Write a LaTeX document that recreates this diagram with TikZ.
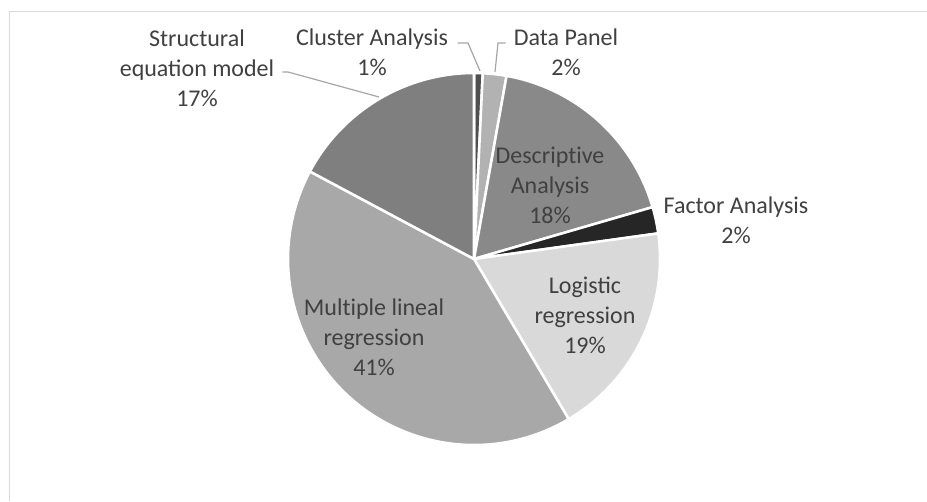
\documentclass[tikz,border=0pt]{standalone}
\usepackage{fontspec}
\setmainfont{Carlito}
\usepackage{tikz}
\usetikzlibrary{positioning}

\definecolor{txt}{HTML}{404040}
\definecolor{lead}{HTML}{A6A6A6}
\definecolor{frm}{HTML}{D9D9D9}
\definecolor{cClu}{HTML}{4F4F4F}
\definecolor{cDat}{HTML}{B2B2B2}
\definecolor{cDes}{HTML}{898989}
\definecolor{cFac}{HTML}{262626}
\definecolor{cLog}{HTML}{D9D9D9}
\definecolor{cMul}{HTML}{A8A8A8}
\definecolor{cStr}{HTML}{7F7F7F}

% keep "t" and "i" apart (no ligature)
\newcommand{\tei}{t\kern0pt i}

\tikzset{
  lbl/.style={align=center, text=txt, inner sep=1pt, font=\fontsize{18}{22.5}\selectfont},
  slice/.style={draw=white, line width=1.9pt, line join=round},
  leader/.style={draw=lead, line width=0.9pt}
}

\begin{document}
\begin{tikzpicture}[x=0.75pt, y=0.75pt]
\useasboundingbox (0,0) rectangle (927,501);
\draw[frm, line width=1.1pt] (9.5,0) -- (9.5,489.5) -- (927,489.5);
\coordinate (c) at (474,242);
% slices, clockwise from the top
\foreach \a/\b/\col in {90/87.3/cClu, 87.3/79.92/cDat, 79.92/16.2/cDes, 16.2/7.92/cFac,
  7.92/-59.4/cLog, -59.4/-208.08/cMul, -208.08/-270/cStr}
  \filldraw[slice, fill=\col] (c) -- ++(\a:186) arc[start angle=\a, end angle=\b, radius=186] -- cycle;
% labels
\node[lbl] (str) at (197,433) {Structural\\equation model\\17\%};
\node[lbl] (clu) at (372,449) {Cluster Analysis\\1\%};
\node[lbl] (dat) at (566,449) {Data Panel\\2\%};
\node[lbl] (des) at (550,316) {Descrip\tei ve\\Analysis\\18\%};
\node[lbl] (fac) at (736,281) {Factor Analysis\\2\%};
\node[lbl] (log) at (585,186) {Logistic\\regression\\19\%};
\node[lbl] (mul) at (374,164) {Mul\tei ple lineal\\regression\\41\%};
% leader lines
\coordinate (strB) at (288,429);
\coordinate (strE) at (379,404);
\coordinate (cluB) at (468,458);
\coordinate (cluE) at (480,430);
\coordinate (datB) at (498,458);
\coordinate (datE) at (495,429);
\draw[leader] ([xshift=5]str.east |- strB) -- (strB) -- (strE);
\draw[leader] ([xshift=6]clu.east |- cluB) -- (cluB) -- (cluE);
\draw[leader] ([xshift=-5]dat.west |- datB) -- (datB) -- (datE);
\end{tikzpicture}
\end{document}
